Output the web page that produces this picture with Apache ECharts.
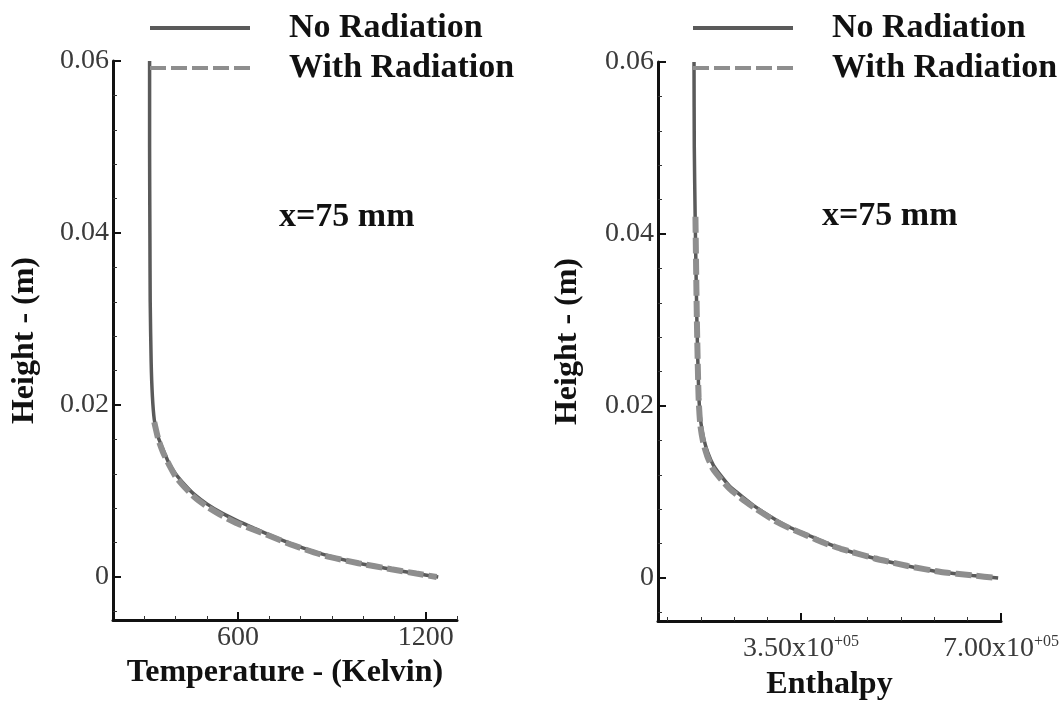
<!DOCTYPE html>
<html><head><meta charset="utf-8">
<script src="https://cdn.jsdelivr.net/npm/echarts@6/dist/echarts.min.js"></script>
<style>html,body{margin:0;padding:0;background:#fff}#c{width:1064px;height:706px}</style>
</head><body><div id="c"></div>
<script>
const seriesNames = ['No Radiation', 'With Radiation'];
const annotation = 'x=75 mm';
const yName = 'Height - (m)';
const xNameLeft = 'Temperature - (Kelvin)';
const xNameRight = 'Enthalpy';
const heightTicksMajor = [0, 0.02, 0.04, 0.06];
const heightTicksMinor = [-0.004, 0.004, 0.008, 0.012, 0.016, 0.024, 0.028, 0.032, 0.036, 0.044, 0.048, 0.052, 0.056];
const tempTicksMajor = [600, 1200];
const tempTicksMinor = [300, 400, 500, 700, 800, 900, 1000, 1100, 1300];
const enthTicksMajor = [350000, 700000];
const enthTicksMinor = [116667, 175000, 233333, 291667, 408333, 466667, 525000, 583333, 641667];

// Temperature (K), Height (m)
const tempNoRad = [[317,0.060],[317,0.050],[318,0.040],[319,0.032],[322,0.025],[326,0.021],[332,0.0183],[342,0.0165],[358,0.0150],[378,0.0133],[400,0.0120],[430,0.0107],[460,0.0096],[500,0.0085],[550,0.0074],[600,0.0065],[650,0.0057],[700,0.0049],[775,0.0038],[875,0.0026],[985,0.0016],[1090,0.0009],[1170,0.0004],[1240,0.0]];
const tempRad = [[332,0.0180],[345,0.0160],[360,0.0145],[380,0.0130],[400,0.0117],[430,0.0104],[460,0.0093],[500,0.0082],[550,0.0071],[600,0.0062],[650,0.0055],[700,0.0048],[775,0.0037],[875,0.0025],[985,0.0016],[1090,0.0009],[1170,0.0004],[1235,0.0]];
// Enthalpy, Height (m)
const enthNoRad = [[163000,0.060],[163500,0.050],[165000,0.042],[168000,0.030],[171500,0.021],[175000,0.0181],[180000,0.0162],[187000,0.0146],[197000,0.0131],[210000,0.0119],[225000,0.0107],[245000,0.0096],[270000,0.0083],[303000,0.0069],[330000,0.0059],[362000,0.0050],[390000,0.0042],[420000,0.0034],[478000,0.0023],[537000,0.0014],[595000,0.0007],[650000,0.0003],[695000,0.0]];
const enthRad = [[165500,0.042],[168000,0.030],[171000,0.021],[174000,0.0178],[179000,0.0158],[186000,0.0142],[196000,0.0127],[210000,0.0115],[225000,0.0104],[245000,0.0093],[270000,0.0081],[303000,0.0067],[330000,0.0058],[362000,0.0049],[390000,0.0041],[420000,0.0034],[478000,0.0023],[537000,0.0014],[595000,0.0007],[650000,0.0003],[693000,0.0]];

const serif = 'Liberation Serif';
const boldText = {fontFamily: serif, fontWeight: 'bold', fontSize: 32, color: '#111'};
const bigBold = Object.assign({}, boldText, {fontSize: 34});
const tickLabel = {fontFamily: serif, fontSize: 28, color: '#3a3a3a'};

function majorAxis(dim, grid, min, max, ticks, extra) {
  return Object.assign({
    type: 'value', gridIndex: grid, min: min, max: max, position: dim === 'x' ? 'bottom' : 'left',
    splitLine: {show: false},
    axisLine: {show: true, onZero: false, lineStyle: {color: '#111', width: 3}},
    axisTick: {show: true, inside: true, length: 8, customValues: ticks, lineStyle: {color: '#111', width: 2}},
    axisLabel: Object.assign({customValues: ticks, margin: 4, formatter: function (v) { return String(v); }}, tickLabel)
  }, extra || {});
}
function minorAxis(dim, grid, min, max, ticks) {
  return {
    type: 'value', gridIndex: grid, min: min, max: max, position: dim === 'x' ? 'bottom' : 'left',
    splitLine: {show: false},
    axisLine: {show: false, onZero: false},
    axisTick: {show: true, inside: true, length: 4, customValues: ticks, lineStyle: {color: '#333', width: 1}},
    axisLabel: {show: false}
  };
}
const yMin = -0.005, yMax = 0.06;
const yNameCfg = {name: yName, nameLocation: 'middle', nameGap: 72, nameTextStyle: boldText};

const noRadStyle = {color: '#5a5a5a', width: 3.5, type: 'solid'};
const radStyle = {color: '#8e8e8e', width: 6, type: [16, 5]};
function line(name, data, xi, yi, style, z) {
  return {name: name, type: 'line', data: data, xAxisIndex: xi, yAxisIndex: yi, symbol: 'none', showSymbol: false,
    smooth: 0.2, lineStyle: style, itemStyle: {color: style.color}, z: z, animation: false};
}
function legend(left) {
  return {left: left, top: 6, orient: 'vertical', itemWidth: 100, itemHeight: 6, itemGap: 6, selectedMode: false,
    itemStyle: {opacity: 0}, lineStyle: {width: 4},
    data: seriesNames, textStyle: Object.assign({padding: [0, 0, 0, 34]}, bigBold)};
}

const option = {
  backgroundColor: '#fff',
  animation: false,
  title: [
    {text: annotation, left: 274, top: 195, textStyle: bigBold},
    {text: annotation, left: 817, top: 194, textStyle: bigBold}
  ],
  legend: [legend(143), legend(686)],
  grid: [
    {left: 113, top: 61, width: 344, height: 559},
    {left: 658, top: 62, width: 343, height: 561}
  ],
  xAxis: [
    majorAxis('x', 0, 200, 1300, tempTicksMajor, {name: xNameLeft, nameLocation: 'middle', nameGap: 27, nameTextStyle: boldText}),
    minorAxis('x', 0, 200, 1300, tempTicksMinor),
    majorAxis('x', 1, 100000, 700000, enthTicksMajor, {name: xNameRight, nameLocation: 'middle', nameGap: 48, nameTextStyle: boldText,
      axisLabel: {customValues: enthTicksMajor, margin: 13,
        formatter: function (v) { return '{a|' + (v / 1e5).toFixed(2) + 'x10}{b|+05}'; },
        rich: {a: {fontFamily: serif, fontSize: 28, color: '#3a3a3a'}, b: {fontFamily: serif, fontSize: 16, color: '#3a3a3a', verticalAlign: 'top', padding: [0, 0, 14, 0]}}}}),
    minorAxis('x', 1, 100000, 700000, enthTicksMinor)
  ],
  yAxis: [
    majorAxis('y', 0, yMin, yMax, heightTicksMajor, yNameCfg),
    minorAxis('y', 0, yMin, yMax, heightTicksMinor),
    majorAxis('y', 1, yMin, yMax, heightTicksMajor, Object.assign({}, yNameCfg, {nameGap: 74})),
    minorAxis('y', 1, yMin, yMax, heightTicksMinor)
  ],
  series: [
    line(seriesNames[0], tempNoRad, 0, 0, noRadStyle, 2),
    line(seriesNames[1], tempRad, 0, 0, radStyle, 3),
    line(seriesNames[0], enthNoRad, 2, 2, noRadStyle, 2),
    line(seriesNames[1], enthRad, 2, 2, radStyle, 3)
  ]
};
const chart = echarts.init(document.getElementById('c'), null, {renderer: 'canvas'});
chart.setOption(option);
</script></body></html>
